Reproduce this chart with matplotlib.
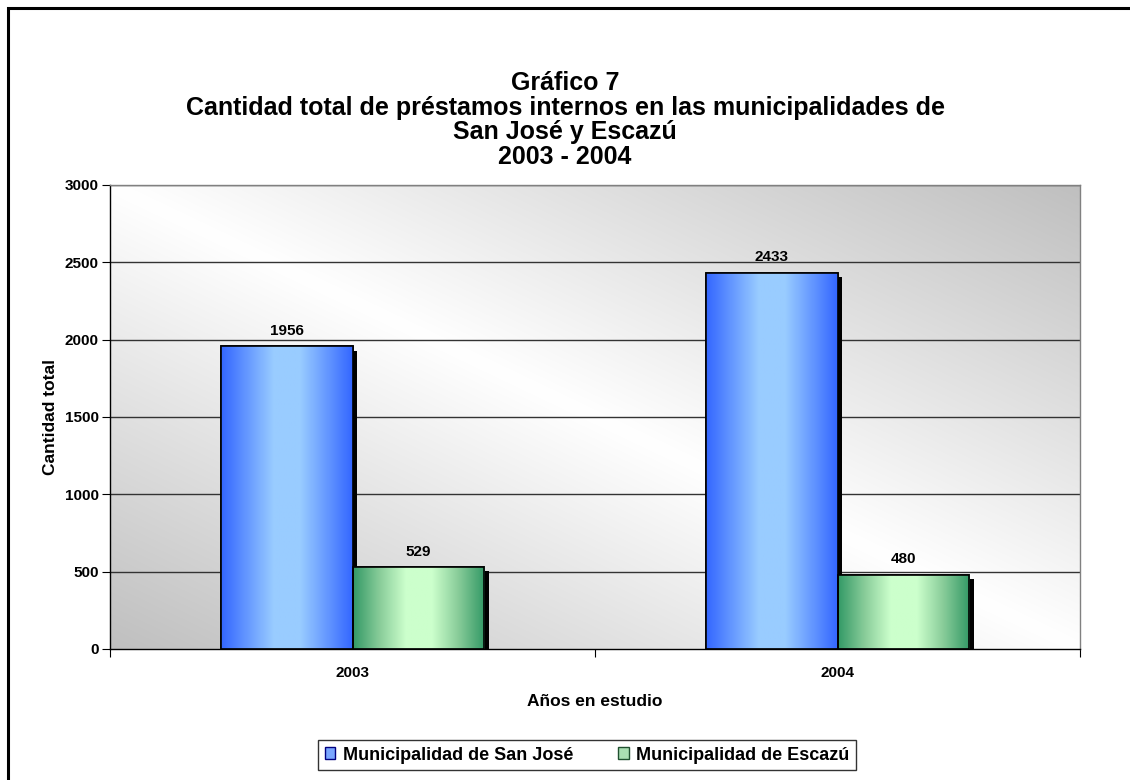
import numpy as np
import matplotlib
matplotlib.use("Agg")
import matplotlib.pyplot as plt
from matplotlib.patches import Rectangle, Patch
from matplotlib.colors import LinearSegmentedColormap
import matplotlib.patheffects as pe

# ---- data ----
years = ["2003", "2004"]
series_names = ["Municipalidad de San José", "Municipalidad de Escazú"]
san_jose = [1956, 2433]
escazu = [529, 480]
y_ticks = [0, 500, 1000, 1500, 2000, 2500, 3000]

title_lines = ["Gráfico 7",
               "Cantidad total de préstamos internos en las municipalidades de",
               "San José y Escazú",
               "2003 - 2004"]

plt.rcParams['font.family'] = ['Liberation Sans', 'DejaVu Sans']

W, H = 1130, 780
fig = plt.figure(figsize=(W / 100, H / 100), dpi=100)
fig.patch.set_facecolor("white")

# outer chart border (extends beyond right/bottom edges)
fig.patches.append(Rectangle((8 / W, -0.1), 1.2, 1 - 8 / H + 0.1, transform=fig.transFigure,
                             fill=False, edgecolor="black", linewidth=2.2, zorder=0))

ax = fig.add_axes([110 / W, 1 - 649 / H, (1080 - 110) / W, (649 - 185) / H])
ax.set_xlim(-0.5, 1.5)
ax.set_ylim(0, 3000)

# plot-area diagonal gradient
nx, ny = 400, 200
xs = np.linspace(0, 1, nx)
ys = np.linspace(0, 1, ny)  # from top
X, Y = np.meshgrid(xs, ys)
d = np.abs(X - Y)
gray = 1.0 - 0.25 * d
img = np.dstack([gray, gray, gray])
ax.imshow(img, extent=[0, 1, 0, 1], transform=ax.transAxes, aspect="auto",
          origin="upper", zorder=0, interpolation="bilinear")

# gridlines
for t in y_ticks[1:]:
    ax.axhline(t, color="#333333", linewidth=1.0, zorder=1)

blue_cmap = LinearSegmentedColormap.from_list(
    "b", ["#3366ff", "#6699ff", "#99ccff", "#99ccff", "#6699ff", "#3366ff"])
green_cmap = LinearSegmentedColormap.from_list(
    "g", ["#339966", "#88cc99", "#ccffcc", "#ccffcc", "#88cc99", "#339966"])

width = 0.272
xpos = np.arange(len(years))
grad = np.linspace(0, 1, 256).reshape(1, -1)

def draw_bars(x, vals, cmap, face):
    bars = ax.bar(x, vals, width=width, facecolor=face, edgecolor="black",
                  linewidth=1.2, zorder=2,
                  path_effects=[pe.SimplePatchShadow(offset=(3, -3), shadow_rgbFace="black",
                                                     alpha=1.0), pe.Normal()])
    for b in bars:
        im = ax.imshow(grad, cmap=cmap, aspect="auto",
                       extent=[b.get_x(), b.get_x() + b.get_width(), 0, b.get_height()],
                       zorder=3, interpolation="bilinear")
        im.set_clip_path(b)
        r = Rectangle((b.get_x(), 0), b.get_width(), b.get_height(), fill=False,
                      edgecolor="black", linewidth=1.2, zorder=4)
        ax.add_patch(r)
    for b, v in zip(bars, vals):
        ax.annotate(str(v), (b.get_x() + b.get_width() / 2, v), xytext=(0, 6),
                    textcoords="offset points", ha="center", va="bottom",
                    fontsize=11, fontweight="bold", zorder=5)
    return bars

draw_bars(xpos - width / 2, san_jose, blue_cmap, "#6699ff")
draw_bars(xpos + width / 2, escazu, green_cmap, "#88cc99")

ax.set_xlim(-0.5, 1.5)
ax.set_ylim(0, 3000)

# spines
for s in ["top", "right"]:
    ax.spines[s].set_color("#808080")
    ax.spines[s].set_linewidth(1.0)
for s in ["left", "bottom"]:
    ax.spines[s].set_color("black")
    ax.spines[s].set_linewidth(1.0)
ax.spines["bottom"].set_zorder(6)

ax.set_yticks(y_ticks)
ax.set_yticklabels([str(t) for t in y_ticks], fontsize=11, fontweight="bold")
ax.set_xticks([-0.5, 0.5, 1.5], minor=False)
ax.set_xticklabels([])
ax.set_xticks(xpos, minor=True)
ax.set_xticklabels(years, minor=True, fontsize=11, fontweight="bold")
ax.tick_params(axis="x", which="minor", length=0, pad=12)
ax.tick_params(axis="x", which="major", length=6, direction="out")
ax.tick_params(axis="y", length=6, direction="out", pad=2)

ax.set_xlabel("Años en estudio", fontsize=12.5, fontweight="bold", labelpad=10)
ax.set_ylabel("Cantidad total", fontsize=12.5, fontweight="bold", labelpad=5)

# title
for i, line in enumerate(title_lines):
    fig.text(0.5, 1 - (83 + i * 24.7) / H, line, ha="center", va="center",
             fontsize=18, fontweight="bold")

# legend
handles = [Patch(facecolor="#7aa6ff", edgecolor="#000080", label=series_names[0]),
           Patch(facecolor="#aadfb3", edgecolor="#205030", label=series_names[1])]
leg = fig.legend(handles=handles, loc="center", bbox_to_anchor=(587 / W, 1 - 755 / H),
                 ncol=2, frameon=True, fancybox=False, edgecolor="black",
                 prop={"weight": "bold", "size": 13}, handlelength=0.6, handleheight=0.6,
                 columnspacing=2.5, handletextpad=0.4, borderpad=0.35)
leg.get_frame().set_linewidth(1.0)

fig.savefig("out.png", dpi=100)
